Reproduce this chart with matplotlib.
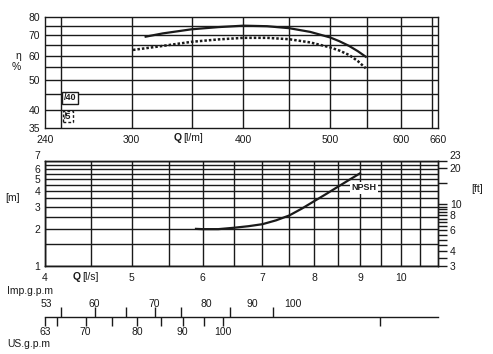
import matplotlib
matplotlib.use('Agg')
import matplotlib.pyplot as plt
from matplotlib.ticker import NullLocator, NullFormatter

plt.rcParams['font.family'] = ['Liberation Sans', 'DejaVu Sans']
plt.rcParams['font.size'] = 7.5

# efficiency curves, Q in l/m, eta in %
q_40 = [311, 325, 350, 375, 400, 425, 450, 475, 500, 512, 525, 537, 548]
eta_40 = [69.1, 70.8, 73.0, 74.2, 75.0, 74.7, 73.6, 71.6, 68.7, 66.8, 64.5, 62.0, 59.5]
q_5 = [301, 325, 350, 375, 400, 425, 450, 475, 500, 512, 525, 537, 548]
eta_5 = [62.6, 64.5, 66.5, 67.7, 68.5, 68.5, 67.8, 66.2, 63.8, 62.3, 60.3, 57.6, 54.6]

# NPSH curve, Q in l/s, NPSH in m
npsh_q = [5.9, 6.0, 6.25, 6.5, 6.75, 7.0, 7.25, 7.5, 7.75, 8.0, 8.25, 8.5, 8.75, 9.0]
npsh_m = [1.99, 1.98, 1.98, 2.03, 2.09, 2.17, 2.33, 2.55, 2.9, 3.33, 3.8, 4.34, 4.93, 5.57]

# axis ticks
q_lm_ticks = [240, 300, 400, 500, 600, 660]
q_lm_grid = [250, 300, 350, 400, 450, 500, 550, 600, 650]
eta_ticks = [35, 40, 50, 60, 70, 80]
eta_grid = [40, 45, 50, 55, 60, 65, 70, 75]
q_ls_ticks = [4, 5, 6, 7, 8, 9, 10]
q_ls_grid = [4.5, 5, 5.5, 6, 6.5, 7, 7.5, 8, 8.5, 9, 9.5, 10, 10.5]
m_ticks = [1, 2, 3, 4, 5, 6, 7]
m_grid = [1.5, 2, 2.5, 3, 3.5, 4, 4.5, 5, 5.5, 6, 6.5]
ft_ticks = [3, 3.5, 4, 4.5, 5, 5.5, 6, 6.5, 7, 7.5, 8, 8.5, 9, 9.5, 10, 15, 20, 23]
ft_labels = [3, 4, 6, 8, 10, 20, 23]
imp_labels = [53, 60, 70, 80, 90, 100]
imp_ticks = [55, 60, 65, 70, 75, 85, 95]
us_labels = [63, 70, 80, 90, 100]
us_ticks = [63, 65, 70, 75, 80, 85, 90, 95, 100, 150]

IMP_PER_LPS = 13.198
US_PER_LPS = 15.850

W, H = 493, 354
ink = '#1a1a1a'


def fx(x):
    return x / W


def fy(y):
    return 1 - y / H


fig = plt.figure(figsize=(W / 100, H / 100), dpi=100)
L, R = 45, 438

# ---- efficiency panel
ax1 = fig.add_axes([fx(L), fy(128), (R - L) / W, (128 - 17) / H])
ax1.set_xscale('log')
ax1.set_yscale('log')
ax1.plot(q_40, eta_40, color=ink, lw=1.6)
ax1.plot(q_5, eta_5, color=ink, lw=1.8, dashes=(1.0, 0.8))
ax1.set_xlim(240, 660)
ax1.set_ylim(35, 80)
ax1.set_xticks(q_lm_ticks, [str(v) for v in q_lm_ticks])
ax1.set_yticks(eta_ticks, [str(v) for v in eta_ticks])
ax1.set_xticks(q_lm_grid, minor=True)
ax1.set_yticks(eta_grid, minor=True)
ax1.xaxis.set_minor_formatter(NullFormatter())
ax1.yaxis.set_minor_formatter(NullFormatter())
ax1.xaxis.remove_overlapping_locs = False
ax1.yaxis.remove_overlapping_locs = False
ax1.grid(which='minor', color=ink, lw=1.0)
ax1.tick_params(which='both', length=0, colors=ink)
ax1.tick_params(axis='x', pad=5)
ax1.tick_params(axis='y', pad=3.5)

# ---- NPSH panel
ax2 = fig.add_axes([fx(L), fy(266), (R - L) / W, (266 - 161) / H])
ax2.set_xscale('log')
ax2.set_yscale('log')
ax2.plot(npsh_q, npsh_m, color=ink, lw=1.6)
ax2.set_xlim(4, 11)
ax2.set_ylim(1, 7)
ax2.set_xticks(q_ls_ticks, [str(v) for v in q_ls_ticks])
ax2.set_yticks(m_ticks, [str(v) for v in m_ticks])
ax2.set_xticks(q_ls_grid, minor=True)
ax2.set_yticks(m_grid, minor=True)
ax2.xaxis.set_minor_formatter(NullFormatter())
ax2.yaxis.set_minor_formatter(NullFormatter())
ax2.grid(which='both', color=ink, lw=1.0)
ax2.tick_params(which='both', length=0, colors=ink)
ax2.tick_params(axis='x', pad=5)
ax2.tick_params(axis='y', pad=3.5)
ax2.get_yticklabels()[-1].set_va('bottom')

axr = ax2.twinx()
axr.set_yscale('log')
axr.set_ylim(3, 23)
axr.set_yticks(ft_ticks, [str(v) if v in ft_labels else '' for v in ft_ticks])
axr.yaxis.set_minor_locator(NullLocator())
axr.tick_params(axis='y', direction='out', length=6.5, width=1.0, pad=2, colors=ink)
axr.get_yticklabels()[-1].set_va('bottom')

for ax in (ax1, ax2, axr):
    for s in ax.spines.values():
        s.set_color(ink)
        s.set_linewidth(1.0)

# ---- gpm scales (shared log Q axis, converted to l/s)
ax3 = fig.add_axes([fx(L), fy(317), (R - L) / W, 0.0001])
ax4 = fig.add_axes([fx(L), fy(317), (R - L) / W, 0.0001])
for ax in (ax3, ax4):
    ax.set_xscale('log')
    ax.set_xlim(4, 11)
    ax.set_yticks([])
    ax.patch.set_visible(False)
    ax.xaxis.remove_overlapping_locs = False
    for s in ax.spines.values():
        s.set_visible(False)
ax3.spines['bottom'].set_visible(True)
ax3.spines['bottom'].set_color(ink)
ax3.spines['bottom'].set_linewidth(1.0)

ax3.set_xticks([v / US_PER_LPS for v in us_labels], [str(v) for v in us_labels])
ax3.set_xticks([v / US_PER_LPS for v in us_ticks], minor=True)
ax3.xaxis.set_minor_formatter(NullFormatter())
ax3.tick_params(axis='x', which='major', length=0, pad=7.5, colors=ink)
ax3.tick_params(axis='x', which='minor', direction='out', length=6.8, width=1.0, colors=ink)

ax4.set_xticks([v / IMP_PER_LPS for v in imp_labels], [str(v) for v in imp_labels])
ax4.set_xticks([v / IMP_PER_LPS for v in imp_ticks], minor=True)
ax4.xaxis.set_minor_formatter(NullFormatter())
ax4.tick_params(axis='x', which='both', top=True, bottom=False, labeltop=True, labelbottom=False)
ax4.tick_params(axis='x', which='major', length=0, pad=5.5, colors=ink)
ax4.tick_params(axis='x', which='minor', direction='out', length=7.5, width=1.0, colors=ink)

# ---- texts
fig.text(fx(18), fy(56), 'η', ha='center', va='center', color=ink)
fig.text(fx(16), fy(67), '%', ha='center', va='center', color=ink)
fig.text(fx(174), fy(138), 'Q', ha='left', va='center', fontweight='bold', color=ink)
fig.text(fx(183), fy(138), '[l/m]', ha='left', va='center', color=ink)
fig.text(fx(13), fy(198), '[m]', ha='center', va='center', color=ink)
fig.text(fx(477), fy(189), '[ft]', ha='center', va='center', color=ink)
fig.text(fx(73), fy(277), 'Q', ha='left', va='center', fontweight='bold', color=ink)
fig.text(fx(82), fy(277), '[l/s]', ha='left', va='center', color=ink)
fig.text(fx(7), fy(291), 'Imp.g.p.m', ha='left', va='center', color=ink)
fig.text(fx(7), fy(344), 'US.g.p.m', ha='left', va='center', color=ink)

fig.text(fx(70), fy(98), '/40', ha='center', va='center', fontsize=6.5, fontweight='bold',
         color=ink, bbox=dict(boxstyle='square,pad=0.15', fc='white', ec=ink, lw=1.0))
fig.text(fx(68), fy(116.5), '/5', ha='center', va='center', fontsize=6.5, fontweight='bold',
         color=ink, bbox=dict(boxstyle='square,pad=0.15', fc='white', ec=ink, lw=1.0, ls=(0, (2, 1.5))))
fig.text(fx(364), fy(188), 'NPSH', ha='center', va='center', fontsize=6.5, fontweight='bold',
         color=ink, bbox=dict(boxstyle='square,pad=0.2', fc='white', ec='none'))

fig.savefig('out.png', dpi=100)
